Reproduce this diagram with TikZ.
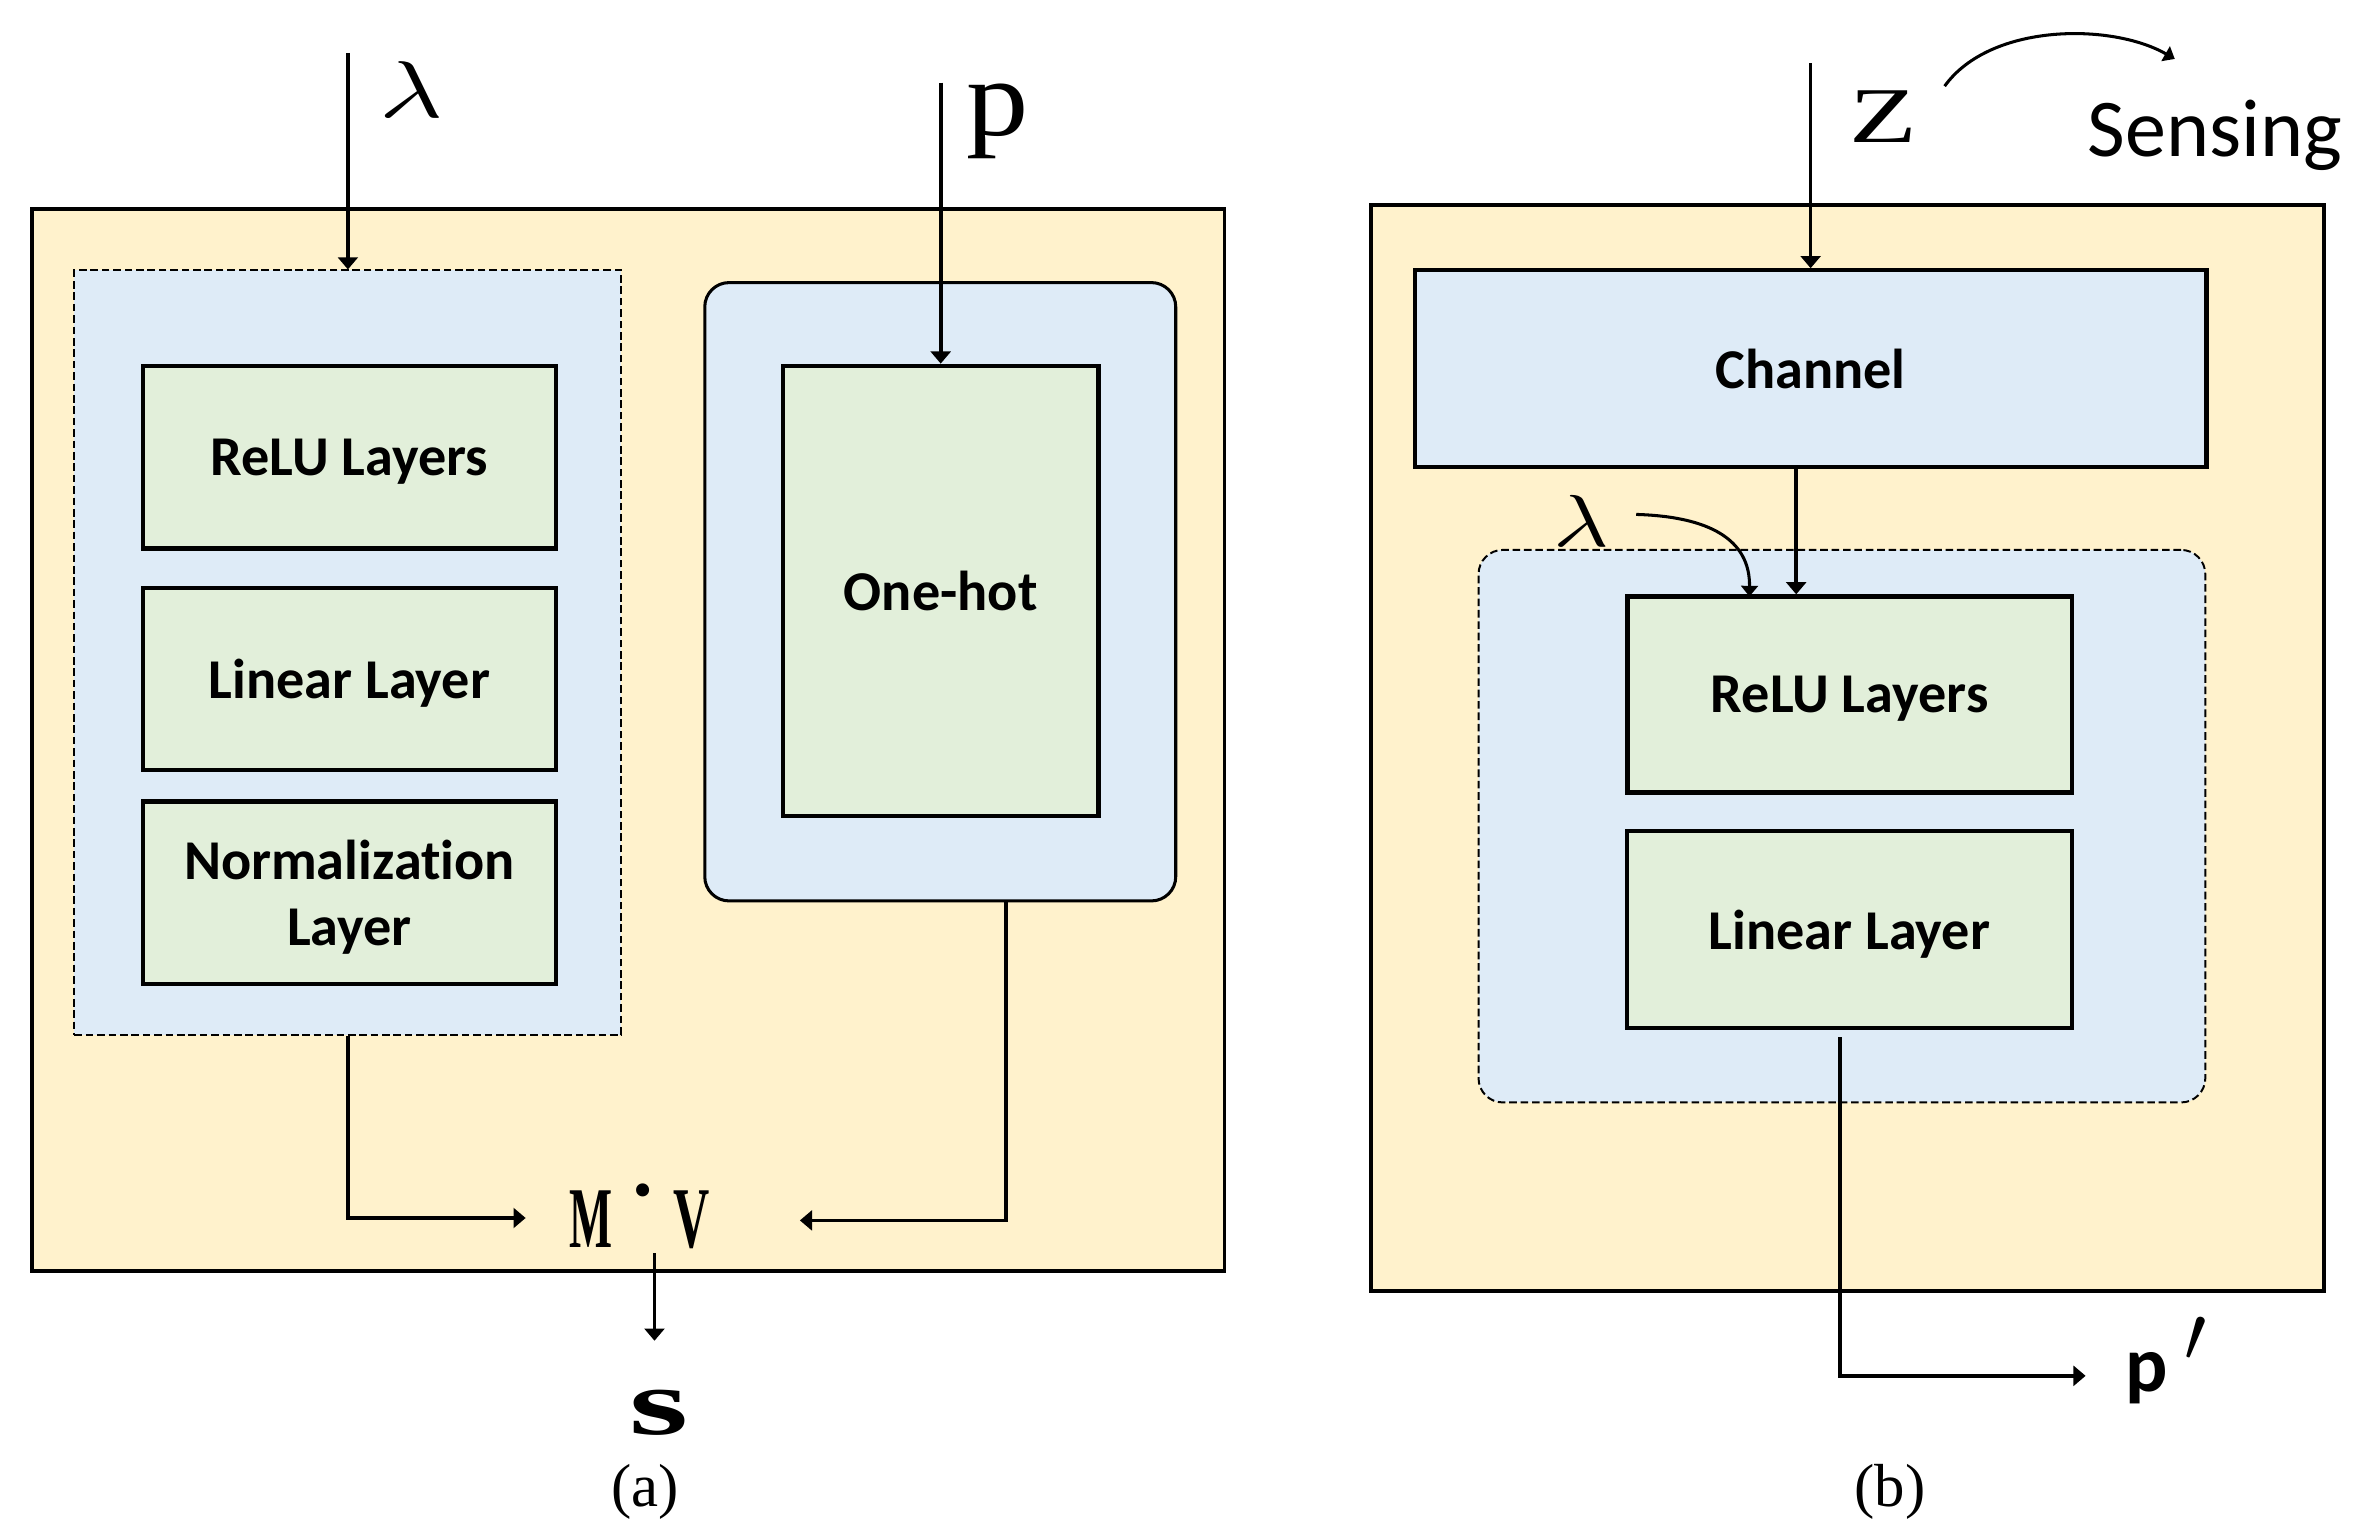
\documentclass[tikz,border=0pt]{standalone}
\usepackage{fontspec}
\setmainfont{Liberation Serif}
\newfontfamily\carl[Ligatures={NoCommon}]{Carlito}
\usetikzlibrary{arrows.meta}
\definecolor{yel}{RGB}{255,242,204}
\definecolor{blu}{RGB}{222,235,247}
\definecolor{grn}{RGB}{226,239,218}
\tikzset{
  panel/.style={draw=black, line width=2.6pt, fill=yel, inner sep=0pt},
  dashbox/.style={draw=black, line width=1.3pt, dash pattern=on 5pt off 2.5pt, fill=blu, inner sep=0pt},
  roundbox/.style={draw=black, line width=2pt, fill=blu, rounded corners=16pt, inner sep=0pt},
  layerbox/.style={draw=black, line width=2.8pt, fill=grn, inner sep=0pt, align=center, text depth=0pt,
    font=\carl\bfseries\fontsize{37}{44}\selectfont},
  chanbox/.style={layerbox, fill=blu},
  arr/.style={line width=2.4pt, -{Triangle[width=13pt,length=8pt]}},
  glyph/.style={inner sep=0pt, outer sep=0pt, font=\fontsize{10}{12}\selectfont},
}
\begin{document}
\begin{tikzpicture}[x=1pt,y=-1pt]
\useasboundingbox (0,0) rectangle (1560,1013);

% ---------------- panel (a) ----------------
\node[panel, minimum width=785pt, minimum height=699pt] (panA) at (413.5,487) {};
\node[dashbox, minimum width=360pt, minimum height=503pt] (dashA) at (229,429.5) {};
\node[layerbox, minimum width=272pt, minimum height=120pt] (reluA) at (230,301) {ReLU Layers};
\node[layerbox, minimum width=272pt, minimum height=120pt] (linA) at (230,446.8) {Linear Layer};
\node[layerbox, minimum width=272pt, minimum height=120pt] (normA) at (230,587.6) {Normalization\\Layer};
\node[roundbox, minimum width=310pt, minimum height=407pt] (roundA) at (618.9,389.5) {};
\node[layerbox, minimum width=207.6pt, minimum height=296.3pt] (oneA) at (619.2,388.9) {One-hot};

\node[glyph] (lamA) at (271,59) {\scalebox{7.2}[5.3]{$\lambda$}};
\node[glyph] (pA) at (656.7,80.2) {\scalebox{8.2}[7.2]{p}};
\node[glyph] (MV) at (421,800.6) {\scalebox{3.0}[5.7]{\bfseries M}\hspace{14pt}\raisebox{26pt}{\fontsize{36}{36}\selectfont\textbullet}\hspace{14pt}\scalebox{3.3}[5.7]{\bfseries V}};
\node[glyph] (sA) at (433.9,929.8) {\scalebox{10}[6.2]{\bfseries s}};
\node[glyph] (capA) at (424.6,982) {\scalebox{4}[4]{(a)}};

\coordinate (lamTop) at (229,34.8);
\coordinate (pTop) at (619.2,54.4);
\coordinate (oOut) at (662,593);
\coordinate (mvL) at (346,801.7);
\coordinate (mvR) at (526.5,803.3);
\coordinate (mvD) at (430.8,825);
\coordinate (sIn) at (430.8,882.5);

\draw[arr] (lamTop) -- (dashA.north);
\draw[arr] (pTop) -- (oneA.north);
\draw[arr] (dashA.south) |- (mvL);
\draw[arr] (oOut) |- (mvR);
\draw[arr] (mvD) -- (sIn);

% ---------------- panel (b) ----------------
\node[panel, minimum width=627pt, minimum height=715pt] (panB) at (1215.9,492.5) {};
\node[chanbox, minimum width=521pt, minimum height=129.3pt] (chanB) at (1191.8,242.6) {Channel};
\node[dashbox, rounded corners=16pt, minimum width=478.4pt, minimum height=363.7pt] (dashB) at (1212.4,543.8) {};
\node[layerbox, minimum width=292.6pt, minimum height=129pt] (reluB) at (1217.5,457.1) {ReLU Layers};
\node[layerbox, minimum width=292.8pt, minimum height=129.7pt] (linB) at (1217.4,611.9) {Linear Layer};

\node[glyph] (zB) at (1239.5,76.5) {\scalebox{7.3}[5.2]{Z}};
\node[inner sep=0pt, font=\carl\fontsize{54}{60}\selectfont] (sensB) at (1458,89) {Sensing};
\node[glyph] (lamB) at (1041,342.6) {\scalebox{6.3}[4.85]{$\lambda$}};
\node[inner sep=0pt, anchor=base west, font=\carl\bfseries\fontsize{52}{60}\selectfont] (pB) at (1399,916) {p\hspace{11pt}\raisebox{20pt}{\scalebox{2.1}{$\prime$}}};
\node[glyph] (capB) at (1244,982) {\scalebox{4}[4]{(b)}};

\coordinate (zTop) at (1191.8,41.5);
\coordinate (curS) at (1280,56.7);
\coordinate (curE) at (1431.5,38.8);
\coordinate (chOut) at (1182.3,307.2);
\coordinate (lamS) at (1077,338.6);
\coordinate (lamE) at (1151.5,392.6);
\coordinate (linOut) at (1211.2,682.6);
\coordinate (pOut) at (1372.8,905.6);

\draw[arr] (zTop) -- (chanB.north);
\draw[line width=2pt, -{Triangle[width=11pt,length=7pt]}] (curS) .. controls (1310,15) and (1390,15) .. (curE);
\draw[arr] (chOut) -- (chOut |- reluB.north);
\draw[line width=2pt, -{Triangle[width=11pt,length=7pt]}] (lamS) .. controls (1125,340) and (1152,355) .. (lamE);
\draw[arr] (linOut) |- (pOut);
\end{tikzpicture}
\end{document}
